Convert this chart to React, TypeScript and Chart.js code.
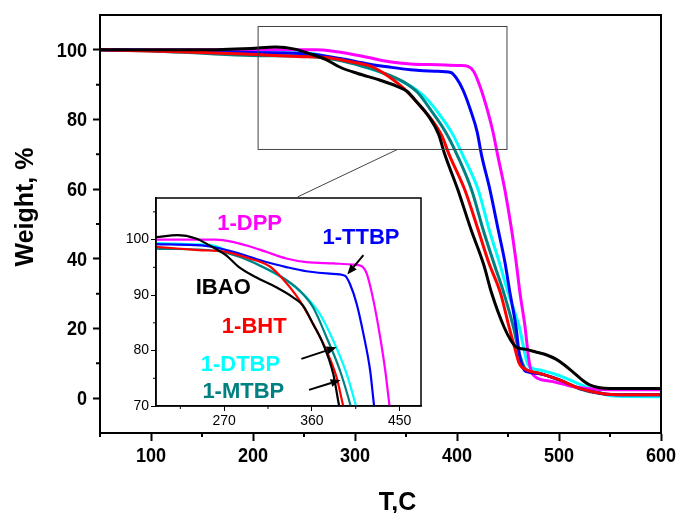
import React, { useEffect, useRef } from "react";
import { Chart, registerables } from "chart.js";

Chart.register(...registerables);

// ---- Data (temperature, C / weight, %) ----
const ibaoT = [50, 100, 150, 198, 222, 241, 254.5, 271.7, 285.5, 302.7, 323.4, 340.6, 350.9, 361.2, 371.5, 381.9, 388, 401, 414, 426, 434, 446, 453, 459, 468, 478, 488, 497, 505, 514, 522, 530, 540, 550, 600];
const ibaoW = [100, 100, 100, 100.4, 100.8, 100.2, 99, 97.2, 95.0, 93.2, 91.4, 89.6, 88.1, 84.8, 81.2, 75.8, 70, 59.7, 48.2, 38.5, 30.1, 20.5, 16.5, 14.5, 14.0, 13.2, 12.4, 11.2, 9.6, 7.4, 5.4, 3.8, 3.0, 2.8, 2.8];

const bhtT = [50, 100, 150, 198, 244, 271.7, 295.8, 316.5, 328.6, 347.5, 361.2, 375, 385.3, 392.2, 407.8, 420.9, 431, 442.7, 451, 457, 461, 468.3, 480, 500, 520, 545, 560, 600];
const bhtW = [100, 99.7, 99.2, 98.7, 98.1, 97.8, 96.6, 95.2, 93.2, 89, 84.8, 80, 75.2, 70, 59.7, 48.2, 39, 30.1, 20.5, 14, 10, 8.1, 7.2, 5.3, 2.8, 1.2, 1.0, 1.0];

const ttbpT = [50, 100, 150, 198, 240, 257.9, 285.5, 313, 333.7, 354.4, 378.5, 394, 399.1, 406, 412.9, 419.8, 423.9, 432.4, 440.5, 447, 452, 457.8, 461.3, 465, 468.3, 481, 500, 520, 545, 560, 600];
const ttbpW = [100, 99.8, 99.5, 99.2, 99.0, 98.7, 97.5, 95.95, 95.05, 94.3, 93.85, 93.5, 92, 88.4, 83, 76.4, 70, 59.7, 48.2, 39, 30.1, 20.5, 12, 8.5, 7.6, 7.0, 5.3, 2.8, 1.2, 1.0, 1.0];

const dppT = [50, 100, 150, 198, 261.4, 278.6, 295.8, 313, 333.7, 354.4, 381.9, 402.5, 411.2, 416.4, 423.2, 430.1, 435.3, 439.7, 447, 453.6, 458, 461.8, 466.7, 470, 472.5, 476.5, 494, 511, 527, 553, 600];
const dppW = [100, 100, 100, 100, 100, 99.6, 98.8, 97.8, 96.6, 95.95, 95.7, 95.5, 95.2, 93.8, 89, 82.4, 76.4, 70, 59.7, 48.2, 39, 30.1, 20.5, 12, 8, 6.2, 4.75, 3.5, 2.75, 2.4, 2.4];

const mtbpT = [50, 100, 150, 198, 244, 264.8, 285.5, 306.2, 326.8, 347.5, 361.2, 375, 388.8, 399.8, 414.4, 425.8, 437, 446, 455.2, 461, 466.7, 480, 500, 520, 540, 560, 600];
const mtbpW = [100, 99.7, 99.0, 98.4, 98.2, 97.9, 96.9, 95.35, 93.5, 90.8, 87.8, 82.4, 76.4, 70, 59.7, 48.2, 38, 30.1, 20.5, 13, 8.6, 7.2, 5.2, 2.7, 1.3, 1.0, 1.0];

const dtbpT = [50, 100, 150, 198, 237.3, 257.9, 271.7, 292.4, 313, 333.7, 354.4, 368.1, 381.9, 395.7, 405.3, 420.9, 431.7, 442, 450.3, 461, 469, 474, 481, 495, 507, 520, 534, 553, 600];
const dtbpW = [100, 99.8, 99.5, 99.4, 99.15, 98.97, 98.1, 96.6, 94.75, 92.6, 89.6, 86.6, 81.8, 75.8, 70, 59.7, 48.2, 38.5, 30.1, 20.5, 10, 8.6, 8.1, 7, 5.7, 4, 2.4, 0.6, 0.4];

const seriesNames = ["IBAO", "1-BHT", "1-TTBP", "1-DPP", "1-MTBP", "1-DTBP"];
const seriesColors = ["#000000", "#ff0000", "#0000ff", "#ff00ff", "#008080", "#00ffff"];
const seriesT = [ibaoT, bhtT, ttbpT, dppT, mtbpT, dtbpT];
const seriesW = [ibaoW, bhtW, ttbpW, dppW, mtbpW, dtbpW];

// ---- Axes ----
const mainXRange = [50, 600];
const mainYRange = [-10, 110];
const mainXTicks = [100, 200, 300, 400, 500, 600];
const mainYTicks = [0, 20, 40, 60, 80, 100];
const mainXMinor = [50, 150, 250, 350, 450, 550];
const mainYMinor = [10, 30, 50, 70, 90];

const insetXRange = [200, 472];
const insetYRange = [70, 107.5];
const insetXTicks = [270, 360, 450];
const insetYTicks = [70, 80, 90, 100];
const insetXMinor = [225, 315, 405];
const insetYMinor = [75, 85, 95, 105];

// zoom box on main chart (data units) and connector line
const zoomBoxX = [205, 449];
const zoomBoxY = [71.4, 106.7];
const connectorFrom = [341.6, 71.4];
const connectorTo = [243.9, 57.8];

// inset labels: [text, color, x, y] (data units, left/baseline)
const insetLabels: [string, string, number, number][] = [
  ["1-DPP", "#ff00ff", 262.8, 101.8],
  ["1-TTBP", "#0000ff", 370.9, 99.15],
  ["IBAO", "#000000", 240.8, 90.2],
  ["1-BHT", "#ff0000", 267.6, 83.1],
  ["1-DTBP", "#00ffff", 245.9, 76.4],
  ["1-MTBP", "#008080", 247.6, 71.5],
];
// arrows: [fromX, fromY, tipX, tipY] in inset data units
const insetArrows = [
  [412.9, 97.2, 396.3, 93.7],
  [349.2, 78.5, 385.4, 80.6],
  [357.1, 72.9, 389.5, 74.7],
];

const FONT = "'Liberation Sans', Arial, sans-serif";
const OFF_Y = 20; // main canvas is shifted up by this many px

function makeDatasets(width: number) {
  return seriesNames.map((name, i) => ({
    label: name,
    data: seriesT[i].map((t, j) => ({ x: t, y: seriesW[i][j] })),
    borderColor: seriesColors[i],
    backgroundColor: seriesColors[i],
    borderWidth: width,
    pointRadius: 0,
    fill: false,
    cubicInterpolationMode: "monotone" as const,
  }));
}

function drawMinorTicks(chart: any, xs: number[], ys: number[], len: number, width: number) {
  const ctx = chart.ctx;
  const { left, bottom } = chart.chartArea;
  const sx = chart.scales.x;
  const sy = chart.scales.y;
  ctx.save();
  ctx.strokeStyle = "#000";
  ctx.lineWidth = width;
  ctx.beginPath();
  xs.forEach((v) => {
    const p = sx.getPixelForValue(v);
    ctx.moveTo(p, bottom);
    ctx.lineTo(p, bottom + len);
  });
  ys.forEach((v) => {
    const p = sy.getPixelForValue(v);
    ctx.moveTo(left, p);
    ctx.lineTo(left - len, p);
  });
  ctx.stroke();
  ctx.restore();
}

function condensedText(ctx: any, txt: string, x: number, y: number, align: string, sx: number) {
  ctx.save();
  ctx.translate(x, y);
  ctx.scale(sx, 1);
  ctx.textAlign = align;
  ctx.fillText(txt, 0, 0);
  ctx.restore();
}

const mainPlugin = {
  id: "mainDecor",
  afterDraw(chart: any) {
    const ctx = chart.ctx;
    const { left, right, top, bottom } = chart.chartArea;
    const sx = chart.scales.x;
    const sy = chart.scales.y;
    ctx.save();
    ctx.strokeStyle = "#000";
    ctx.lineWidth = 2;
    ctx.strokeRect(left, top, right - left, bottom - top);
    ctx.restore();
    drawMinorTicks(chart, mainXMinor, mainYMinor, 4, 2);

    // tick labels (bold, condensed)
    ctx.save();
    ctx.fillStyle = "#000";
    ctx.font = `bold 21px ${FONT}`;
    ctx.textBaseline = "middle";
    mainYTicks.forEach((v) => {
      condensedText(ctx, String(v), left - 13, sy.getPixelForValue(v) + 1, "right", 0.86);
    });
    mainXTicks.forEach((v) => {
      condensedText(ctx, String(v), sx.getPixelForValue(v), bottom + 23, "center", 0.86);
    });
    ctx.restore();

    // zoom box + connector
    ctx.save();
    ctx.strokeStyle = "#444";
    ctx.lineWidth = 1;
    const x0 = sx.getPixelForValue(zoomBoxX[0]);
    const x1 = sx.getPixelForValue(zoomBoxX[1]);
    const y0 = sy.getPixelForValue(zoomBoxY[1]);
    const y1 = sy.getPixelForValue(zoomBoxY[0]);
    ctx.strokeRect(x0, y0, x1 - x0, y1 - y0);
    ctx.beginPath();
    ctx.moveTo(sx.getPixelForValue(connectorFrom[0]), sy.getPixelForValue(connectorFrom[1]));
    ctx.lineTo(sx.getPixelForValue(connectorTo[0]), sy.getPixelForValue(connectorTo[1]));
    ctx.stroke();
    ctx.restore();

    // axis titles
    ctx.save();
    ctx.fillStyle = "#000";
    ctx.font = `bold 25px ${FONT}`;
    ctx.textAlign = "center";
    ctx.textBaseline = "alphabetic";
    ctx.fillText("T,C", 397.5, 510 + OFF_Y);
    ctx.translate(33, 207 + OFF_Y);
    ctx.rotate(-Math.PI / 2);
    ctx.fillText("Weight, %", 0, 0);
    ctx.restore();
  },
};

const insetPlugin = {
  id: "insetDecor",
  beforeDraw(chart: any) {
    const ctx = chart.ctx;
    const { left, right, top, bottom } = chart.chartArea;
    ctx.save();
    ctx.fillStyle = "#fff";
    ctx.fillRect(left, top, right - left, bottom - top);
    ctx.restore();
  },
  afterDraw(chart: any) {
    const ctx = chart.ctx;
    const { left, right, top, bottom } = chart.chartArea;
    const sx = chart.scales.x;
    const sy = chart.scales.y;
    ctx.save();
    ctx.strokeStyle = "#000";
    ctx.lineWidth = 1.5;
    ctx.strokeRect(left, top, right - left, bottom - top);
    ctx.restore();
    drawMinorTicks(chart, insetXMinor, insetYMinor, 3, 1);

    ctx.save();
    ctx.font = `bold 22px ${FONT}`;
    ctx.textAlign = "left";
    ctx.textBaseline = "alphabetic";
    insetLabels.forEach(([txt, col, x, y]) => {
      ctx.fillStyle = col;
      ctx.fillText(txt, sx.getPixelForValue(x), sy.getPixelForValue(y));
    });
    ctx.restore();

    ctx.save();
    ctx.strokeStyle = "#000";
    ctx.fillStyle = "#000";
    ctx.lineWidth = 2;
    insetArrows.forEach(([fx, fy, tx, ty]) => {
      const ax = sx.getPixelForValue(fx);
      const ay = sy.getPixelForValue(fy);
      const bx = sx.getPixelForValue(tx);
      const by = sy.getPixelForValue(ty);
      const ang = Math.atan2(by - ay, bx - ax);
      const hl = 10;
      const hw = 4;
      const baseX = bx - hl * Math.cos(ang);
      const baseY = by - hl * Math.sin(ang);
      ctx.beginPath();
      ctx.moveTo(ax, ay);
      ctx.lineTo(baseX, baseY);
      ctx.stroke();
      ctx.beginPath();
      ctx.moveTo(bx, by);
      ctx.lineTo(baseX + hw * Math.sin(ang), baseY - hw * Math.cos(ang));
      ctx.lineTo(baseX - hw * Math.sin(ang), baseY + hw * Math.cos(ang));
      ctx.closePath();
      ctx.fill();
    });
    ctx.restore();
  },
};

export default function App() {
  const mainRef = useRef<HTMLCanvasElement>(null);
  const insetRef = useRef<HTMLCanvasElement>(null);

  useEffect(() => {
    if (!mainRef.current || !insetRef.current) return;
    const main = new Chart(mainRef.current, {
      type: "line",
      data: { datasets: makeDatasets(3) as any },
      options: {
        responsive: false,
        animation: false,
        layout: { padding: { top: 15 + OFF_Y, right: 59, left: 0, bottom: 0 } },
        plugins: { legend: { display: false }, tooltip: { enabled: false } },
        scales: {
          x: {
            type: "linear",
            min: mainXRange[0],
            max: mainXRange[1],
            afterBuildTicks: (s: any) => {
              s.ticks = mainXTicks.map((v) => ({ value: v }));
            },
            afterFit: (s: any) => {
              s.height = 80 + OFF_Y;
            },
            grid: { drawOnChartArea: false, drawTicks: true, tickLength: 8, tickWidth: 2, tickColor: "#000" },
            border: { display: true, color: "#000", width: 2 },
            ticks: { display: false, autoSkip: false },
          },
          y: {
            type: "linear",
            min: mainYRange[0],
            max: mainYRange[1],
            afterBuildTicks: (s: any) => {
              s.ticks = mainYTicks.map((v) => ({ value: v }));
            },
            afterFit: (s: any) => {
              s.width = 100;
            },
            grid: { drawOnChartArea: false, drawTicks: true, tickLength: 7, tickWidth: 2, tickColor: "#000" },
            border: { display: true, color: "#000", width: 2 },
            ticks: { display: false, autoSkip: false },
          },
        },
      },
      plugins: [mainPlugin],
    });

    const insetTickFont = { family: FONT, size: 14 };
    const inset = new Chart(insetRef.current, {
      type: "line",
      data: { datasets: makeDatasets(2.2) as any },
      options: {
        responsive: false,
        animation: false,
        layout: { padding: { top: 13, right: 11, left: 0, bottom: 0 } },
        plugins: { legend: { display: false }, tooltip: { enabled: false } },
        scales: {
          x: {
            type: "linear",
            min: insetXRange[0],
            max: insetXRange[1],
            afterBuildTicks: (s: any) => {
              s.ticks = insetXTicks.map((v) => ({ value: v }));
            },
            afterFit: (s: any) => {
              s.height = 29;
            },
            grid: { drawOnChartArea: false, drawTicks: true, tickLength: 5, tickWidth: 1, tickColor: "#000" },
            border: { display: true, color: "#000", width: 1.5 },
            ticks: { font: insetTickFont, color: "#000", padding: 2, maxRotation: 0, autoSkip: false },
          },
          y: {
            type: "linear",
            min: insetYRange[0],
            max: insetYRange[1],
            afterBuildTicks: (s: any) => {
              s.ticks = insetYTicks.map((v) => ({ value: v }));
            },
            afterFit: (s: any) => {
              s.width = 46;
            },
            grid: { drawOnChartArea: false, drawTicks: true, tickLength: 5, tickWidth: 1, tickColor: "#000" },
            border: { display: true, color: "#000", width: 1.5 },
            ticks: { font: insetTickFont, color: "#000", padding: 2, autoSkip: false },
          },
        },
      },
      plugins: [insetPlugin],
    });

    return () => {
      main.destroy();
      inset.destroy();
    };
  }, []);

  return (
    <div style={{ position: "fixed", left: 0, top: 0, width: 679, height: 513, overflow: "hidden", background: "#fff" }}>
      <canvas ref={mainRef} width={720} height={553} style={{ position: "absolute", left: 0, top: -OFF_Y, width: 720, height: 553 }} />
      <canvas ref={insetRef} width={322} height={250} style={{ position: "absolute", left: 110, top: 185, width: 322, height: 250 }} />
    </div>
  );
}
